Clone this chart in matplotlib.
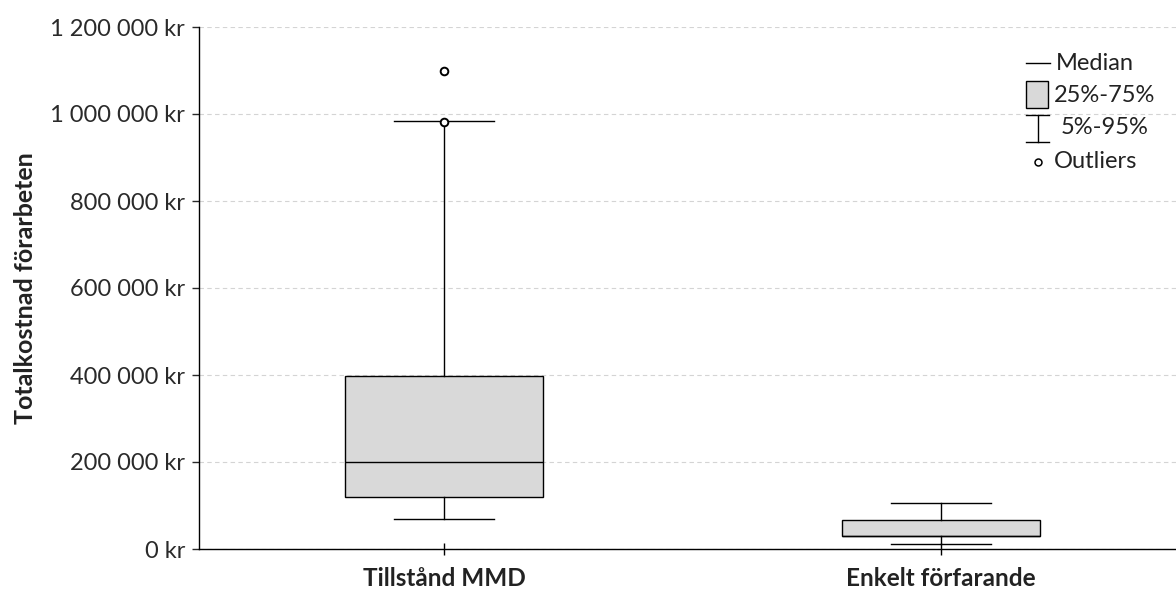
import matplotlib
matplotlib.use("Agg")
import matplotlib.pyplot as plt
from matplotlib.ticker import FuncFormatter

# data (kr)
categories = ["Tillstånd MMD", "Enkelt förfarande"]
medians = [200000, 30000]
q1 = [120000, 30000]
q3 = [397000, 66000]
p5 = [70000, 12000]
p95 = [983000, 106000]
outliers = [[981000, 1100000], []]

plt.rcParams["font.family"] = ["Lato", "DejaVu Sans"]

fig = plt.figure(figsize=(11.76, 5.90), dpi=100)
ax = fig.add_axes([199 / 1176, 1 - 549 / 590, 1 - 199 / 1176, (549 - 27) / 590])

stats = []
for i, name in enumerate(categories):
    stats.append(dict(label=name, med=medians[i], q1=q1[i], q3=q3[i],
                      whislo=p5[i], whishi=p95[i], fliers=outliers[i]))

ax.bxp(stats, positions=[0, 1], widths=0.4, capwidths=0.2, patch_artist=True,
       boxprops=dict(facecolor="#d9d9d9", edgecolor="black", linewidth=1.0),
       medianprops=dict(color="black", linewidth=1.0),
       whiskerprops=dict(color="black", linewidth=1.0),
       capprops=dict(color="black", linewidth=1.0),
       flierprops=dict(marker="o", markerfacecolor="white", markeredgecolor="black",
                       markersize=5.5, markeredgewidth=1.4),
       zorder=3)

ax.set_xlim(-0.493, 1.473)
ax.set_ylim(0, 1200000)
ax.set_yticks(range(0, 1200001, 200000))


def kr(v, pos):
    return "{:,.0f} kr".format(v).replace(",", " ")


ax.yaxis.set_major_formatter(FuncFormatter(kr))
ax.yaxis.grid(True, linestyle=(0, (4, 3)), color="#d4d4d4", linewidth=0.8, zorder=0)
ax.set_axisbelow(True)

for s in ["top", "right"]:
    ax.spines[s].set_visible(False)
ax.spines["left"].set_linewidth(1.0)
ax.spines["bottom"].set_linewidth(1.0)

ax.tick_params(axis="y", labelsize=17, length=5, width=1.0, pad=5, colors="#2a2a2a")
ax.tick_params(axis="x", direction="inout", length=8, width=1.0, pad=9)
for lab in ax.get_xticklabels():
    lab.set_fontweight("bold")
    lab.set_fontsize(17.5)
    lab.set_color("#222222")

ax.set_ylabel("Totalkostnad förarbeten", fontsize=18, fontweight="bold",
              color="#222222")
ax.yaxis.set_label_coords(-0.166, 0.5)

# legend drawn by hand in axes coordinates
T = ax.transAxes


def ax_xy(px, py):
    return ((px - 199) / (1176 - 199), (549 - py) / (549 - 27))


def hline(x0, x1, y):
    a = ax_xy(x0, y)
    b = ax_xy(x1, y)
    ax.plot([a[0], b[0]], [a[1], b[1]], color="black", lw=1.0, transform=T, clip_on=False)


hline(1026, 1050, 63)
bx0, by0 = ax_xy(1026, 108)
bx1, by1 = ax_xy(1048, 81)
ax.add_patch(plt.Rectangle((bx0, by0), bx1 - bx0, by1 - by0, facecolor="#d9d9d9",
                           edgecolor="black", lw=1.0, transform=T, clip_on=False, zorder=4))
hline(1026, 1049, 115)
hline(1026, 1049, 142)
a = ax_xy(1037.5, 115)
b = ax_xy(1037.5, 142)
ax.plot([a[0], b[0]], [a[1], b[1]], color="black", lw=1.0, transform=T, clip_on=False)
c = ax_xy(1037.5, 162)
ax.plot([c[0]], [c[1]], marker="o", markerfacecolor="white", markeredgecolor="black",
        markersize=5, markeredgewidth=1.1, transform=T, clip_on=False)

for txt, px, py in [("Median", 1056, 63), ("25%-75%", 1054, 95),
                    ("5%-95%", 1061, 128), ("Outliers", 1054, 162)]:
    p = ax_xy(px, py)
    ax.text(p[0], p[1], txt, transform=T, fontsize=17, va="center", ha="left",
            color="#222222")

fig.savefig("out.png", dpi=100)
